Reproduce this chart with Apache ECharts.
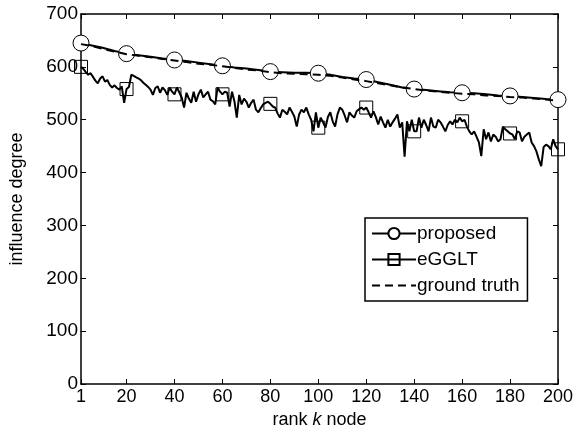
<!DOCTYPE html>
<html>
<head>
<meta charset="utf-8">
<script src="https://cdn.jsdelivr.net/npm/echarts@6/dist/echarts.min.js"></script>
<style>
  html, body { margin: 0; padding: 0; background: #fff; }
  #chart { width: 578px; height: 434px; }
</style>
</head>
<body>
<div id="chart"></div>
<script>
// rank positions for the smooth curves (every 5 ranks)
const rankCoarse = [1, 5, 10, 15, 20, 25, 30, 35, 40, 45, 50, 55, 60, 65, 70, 75, 80, 85, 90, 95,
  100, 105, 110, 115, 120, 125, 130, 135, 140, 145, 150, 155, 160, 165, 170, 175, 180, 185, 190, 195, 200];
const proposedVals = [645, 641, 636, 630, 625, 622, 619, 616, 613, 611, 608, 605, 602, 599, 597, 594, 591, 590, 589, 589,
  588, 585, 581, 578, 576, 571, 566, 561, 558, 556, 554, 552, 551, 550, 548, 546, 545, 543, 541, 539, 538];
const truthVals = [643, 640, 634, 629, 624, 621, 618, 615, 612, 609, 606, 604, 601, 598, 595, 593, 590, 588, 587, 586,
  585, 583, 580, 576, 573, 569, 565, 561, 558, 555, 553, 551, 549, 548, 546, 545, 543, 542, 540, 538, 536];
// eGGLT, one value per rank 1..200
const eggltVals = [
  600, 596, 590, 585, 588, 581, 574, 569, 578, 582, 572, 575, 566, 561, 565, 560, 557, 563, 532, 558,
  562, 585, 583, 580, 578, 575, 570, 566, 562, 557, 547, 560, 563, 551, 561, 556, 547, 561, 553, 548,
  561, 552, 542, 523, 551, 540, 532, 553, 534, 548, 557, 542, 548, 553, 538, 535, 529, 561, 553, 548,
  553, 551, 525, 553, 535, 504, 547, 529, 540, 534, 523, 532, 538, 519, 514, 522, 529, 532, 534, 530,
  525, 523, 512, 504, 519, 515, 510, 523, 515, 506, 487, 510, 519, 514, 523, 510, 500, 478, 514, 485,
  504, 495, 485, 505, 514, 497, 487, 510, 523, 519, 508, 495, 514, 508, 504, 516, 520, 523, 519, 523,
  514, 504, 516, 505, 491, 506, 495, 485, 500, 487, 495, 502, 510, 485, 495, 430, 497, 478, 500, 478,
  478, 504, 485, 500, 490, 478, 504, 487, 485, 500, 495, 487, 478, 490, 497, 491, 500, 495, 504, 497,
  500, 487, 478, 472, 478, 468, 457, 431, 482, 463, 476, 459, 472, 468, 459, 463, 487, 482, 478, 474,
  472, 463, 478, 476, 459, 468, 472, 476, 457, 450, 440, 425, 412, 448, 453, 450, 444, 463, 450, 444
];
const xTicks = [1, 20, 40, 60, 80, 100, 120, 140, 160, 180, 200];

const font = 'Liberation Sans';
const isMarker = (r) => r === 1 || r % 20 === 0;

const proposedData = rankCoarse.map((r, i) => [r, proposedVals[i]]);
const truthData = rankCoarse.map((r, i) => [r, truthVals[i]]);
const eggltData = eggltVals.map((v, i) => [i + 1, v]);

const frameLine = { show: true, onZero: false, lineStyle: { color: '#000', width: 1.5 } };

const options = {
  animation: false,
  grid: { left: 75, right: 20, top: 14, bottom: 48 },
  legend: {
    orient: 'vertical',
    left: 365,
    top: 218,
    width: 177,
    padding: [6, 8, 6, 6],
    itemGap: 7,
    itemWidth: 44,
    itemHeight: 14,
    backgroundColor: '#fff',
    borderColor: '#000',
    borderWidth: 1.5,
    borderRadius: 0,
    textStyle: { fontFamily: font, fontSize: 19, color: '#000', padding: [0, 0, 0, -4] },
    data: ['proposed', 'eGGLT', 'ground truth'],
  },
  xAxis: [{
    type: 'value',
    min: 1,
    max: 200,
    name: '{a|rank }{b|k}{a| node}',
    nameLocation: 'middle',
    nameGap: 27,
    nameTextStyle: {
      rich: {
        a: { fontFamily: font, fontSize: 18, color: '#000' },
        b: { fontFamily: font, fontSize: 18, color: '#000', fontStyle: 'italic' },
      },
    },
    axisLine: frameLine,
    axisTick: { inside: true, length: 5, customValues: xTicks, lineStyle: { color: '#000' } },
    axisLabel: { customValues: xTicks, margin: 4, fontFamily: font, fontSize: 18, color: '#000' },
    splitLine: { show: false },
  }, {
    type: 'value',
    position: 'top',
    min: 1,
    max: 200,
    axisLine: frameLine,
    axisTick: { inside: true, length: 5, customValues: xTicks, lineStyle: { color: '#000' } },
    axisLabel: { show: false },
    splitLine: { show: false },
  }],
  yAxis: [{
    type: 'value',
    min: 0,
    max: 700,
    interval: 100,
    name: 'influence degree',
    nameLocation: 'middle',
    nameGap: 55,
    nameTextStyle: { fontFamily: font, fontSize: 18, color: '#000' },
    axisLine: frameLine,
    axisTick: { inside: true, length: 5, lineStyle: { color: '#000' } },
    axisLabel: { margin: 3, fontFamily: font, fontSize: 19, color: '#000' },
    splitLine: { show: false },
  }, {
    type: 'value',
    position: 'right',
    min: 0,
    max: 700,
    interval: 100,
    axisLine: frameLine,
    axisTick: { inside: true, length: 5, lineStyle: { color: '#000' } },
    axisLabel: { show: false },
    splitLine: { show: false },
  }],
  series: [{
    name: 'proposed',
    type: 'line',
    data: proposedData,
    showAllSymbol: true,
    symbol: 'circle',
    symbolSize: (v) => (isMarker(v[0]) ? 16 : 0),
    itemStyle: { color: '#fff', borderColor: '#000', borderWidth: 1 },
    lineStyle: { color: '#000', width: 2 },
    z: 3,
  }, {
    name: 'eGGLT',
    type: 'line',
    data: eggltData,
    showAllSymbol: true,
    symbol: 'rect',
    symbolSize: (v) => (isMarker(v[0]) ? 13 : 0),
    itemStyle: { color: 'rgba(0,0,0,0)', borderColor: '#000', borderWidth: 1 },
    lineStyle: { color: '#000', width: 2 },
    z: 2,
  }, {
    name: 'ground truth',
    type: 'line',
    data: truthData,
    symbol: 'none',
    itemStyle: { color: 'rgba(0,0,0,0)', borderWidth: 0 },
    lineStyle: { color: '#000', width: 2, type: [8, 5] },
    z: 4,
  }],
};

const myChart = echarts.init(document.getElementById('chart'));
myChart.setOption(options);
</script>
</body>
</html>
